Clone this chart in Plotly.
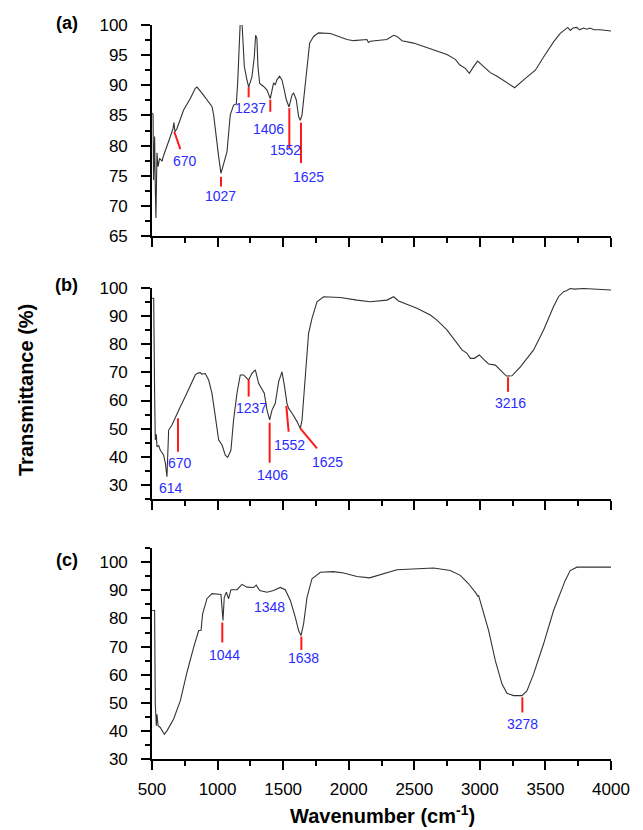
import plotly.graph_objects as go
from plotly.subplots import make_subplots

# ---------------- data ----------------
wn_a = [502, 508, 512, 520, 525, 530, 538, 546, 558, 576, 589, 614, 640, 660, 667, 675, 690, 741, 792, 830,
        843, 881, 919, 957, 970, 990, 1008, 1026, 1046, 1072, 1084, 1097, 1122, 1143, 1153, 1173, 1186, 1194,
        1204, 1224, 1237, 1262, 1280, 1290, 1300, 1308, 1321, 1351, 1377, 1402, 1415, 1427, 1440, 1453, 1473,
        1491, 1509, 1524, 1545, 1568, 1580, 1600, 1618, 1631, 1644, 1661, 1682, 1702, 1732, 1770, 1860, 1987,
        2037, 2139, 2150, 2164, 2291, 2342, 2368, 2406, 2495, 2647, 2749, 2813, 2846, 2889, 2920, 2952, 2983,
        3029, 3080, 3131, 3207, 3265, 3334, 3423, 3486, 3562, 3613, 3651, 3670, 3690, 3710, 3740, 3760, 3790,
        3816, 3840, 3870, 3918, 4000]
t_a = [85.4, 85.2, 74.3, 81.5, 73.0, 68.0, 78.8, 76.5, 77.9, 77.4, 78.4, 79.8, 81.5, 82.8, 83.8, 82.3, 82.8,
       85.9, 87.8, 89.5, 89.7, 88.7, 87.6, 86.5, 85.1, 80.9, 78.2, 75.4, 77.1, 79.0, 82.0, 85.1, 86.7, 86.9,
       90.3, 100.5, 100.5, 97.0, 93.1, 90.9, 89.7, 91.4, 94.7, 98.3, 97.8, 93.1, 90.3, 89.8, 89.2, 87.8, 89.2,
       90.4, 90.1, 90.9, 91.5, 90.9, 89.2, 87.6, 86.4, 88.4, 88.7, 87.6, 84.8, 84.2, 85.1, 88.7, 93.6, 97.0,
       98.1, 98.7, 98.6, 97.6, 97.4, 97.6, 97.1, 97.3, 97.6, 98.3, 98.1, 97.4, 97.0, 95.9, 95.1, 94.3, 93.4,
       92.8, 92.0, 93.1, 94.0, 93.1, 92.1, 91.5, 90.4, 89.6, 90.9, 92.5, 94.7, 97.2, 98.6, 99.2, 99.6, 99.1,
       99.5, 99.6, 99.2, 99.5, 99.3, 99.5, 99.2, 99.2, 99.0]

wn_b = [502, 513, 520, 525, 533, 538, 551, 563, 589, 602, 614, 622, 627, 652, 678, 716, 754, 792, 830, 850,
        868, 880, 906, 932, 957, 983, 1008, 1034, 1059, 1077, 1102, 1122, 1148, 1173, 1198, 1224, 1237, 1262,
        1288, 1313, 1339, 1356, 1377, 1397, 1415, 1440, 1466, 1491, 1509, 1529, 1542, 1568, 1606, 1631, 1644,
        1661, 1694, 1720, 1758, 1809, 1936, 2063, 2164, 2291, 2342, 2380, 2495, 2520, 2622, 2673, 2749, 2826,
        2864, 2902, 2927, 2958, 2996, 3029, 3067, 3118, 3156, 3202, 3245, 3309, 3410, 3486, 3562, 3600, 3638,
        3660, 3689, 3720, 3790, 3850, 3918, 4000]
t_b = [96.3, 96.3, 62.6, 46.0, 48.0, 43.6, 44.0, 42.4, 40.6, 37.7, 32.9, 43.6, 49.5, 51.3, 53.7, 57.8, 61.4,
       65.5, 69.1, 69.8, 69.9, 69.4, 69.6, 67.3, 62.6, 54.3, 46.0, 44.2, 40.6, 39.8, 42.4, 53.1, 62.6, 69.1,
       69.1, 67.9, 67.3, 69.7, 70.9, 66.1, 63.7, 62.6, 56.6, 53.1, 56.6, 59.0, 66.7, 70.2, 65.5, 59.0, 57.2,
       55.5, 52.5, 50.1, 53.1, 64.9, 83.9, 89.2, 95.1, 96.9, 96.6, 95.7, 95.1, 95.7, 96.9, 95.4, 93.4, 92.8,
       90.4, 88.6, 85.1, 80.3, 78.0, 76.8, 75.0, 75.0, 76.2, 74.6, 73.0, 72.6, 70.8, 68.7, 68.8, 72.0, 78.0,
       85.1, 93.4, 96.9, 98.7, 99.0, 99.8, 99.6, 99.8, 99.7, 99.6, 99.3]

wn_c = [502, 520, 525, 533, 538, 546, 563, 594, 614, 665, 716, 767, 818, 856, 874, 886, 919, 957, 1008, 1026,
        1041, 1051, 1067, 1084, 1102, 1148, 1186, 1224, 1275, 1295, 1321, 1377, 1427, 1478, 1516, 1555, 1593,
        1618, 1636, 1656, 1682, 1720, 1784, 1885, 1961, 2063, 2159, 2266, 2368, 2647, 2774, 2851, 2914, 2973,
        2985, 2990, 3016, 3067, 3118, 3169, 3207, 3257, 3321, 3359, 3410, 3486, 3562, 3651, 3689, 3740, 4000]
t_c = [82.8, 82.8, 49.6, 41.9, 46.0, 41.9, 41.3, 38.9, 40.1, 44.3, 50.8, 60.9, 69.8, 75.7, 75.8, 81.6, 87.0,
       88.8, 88.6, 88.5, 79.3, 87.5, 89.3, 87.0, 90.2, 90.2, 92.1, 91.1, 91.0, 91.8, 89.9, 89.3, 89.9, 91.0,
       90.2, 86.4, 80.4, 75.7, 73.9, 78.1, 87.5, 94.1, 96.4, 96.6, 96.1, 94.9, 94.4, 95.9, 97.3, 97.9, 97.0,
       95.3, 92.3, 88.8, 87.8, 88.2, 84.0, 75.7, 65.0, 56.7, 53.4, 52.6, 52.6, 54.3, 60.3, 71.0, 82.8, 93.5,
       97.0, 98.2, 98.2]

panel_letters = ["(a)", "(b)", "(c)"]
x_ticks = [500, 1000, 1500, 2000, 2500, 3000, 3500, 4000]
y_ticks_a = [65, 70, 75, 80, 85, 90, 95, 100]
y_ticks_bc = [30, 40, 50, 60, 70, 80, 90, 100]

# peak labels per panel
labels_a = ["670", "1027", "1237", "1406", "1552", "1625"]
labels_b = ["614", "670", "1237", "1406", "1552", "1625", "3216"]
labels_c = ["1044", "1348", "1638", "3278"]

# ---------------- layout config (positions of marker ticks/labels) ----------------
ann_a = [(labels_a[0], 754, 77.5, (670, 82.3, 716, 79.4)),
         (labels_a[1], 1026, 71.6, (1026, 74.8, 1026, 73.2)),
         (labels_a[2], 1250, 86.2, (1237, 89.7, 1237, 88.0)),
         (labels_a[3], 1389, 82.8, (1402, 87.6, 1402, 85.6)),
         (labels_a[4], 1517, 79.2, (1547, 86.2, 1547, 79.6)),
         (labels_a[5], 1694, 74.8, (1636, 83.8, 1636, 77.1))]
ann_b = [(labels_b[0], 645, 28.8, None),
         (labels_b[1], 716, 37.9, (698, 53.7, 698, 41.8)),
         (labels_b[2], 1262, 57.2, (1237, 67.5, 1237, 61.4)),
         (labels_b[3], 1415, 33.5, (1397, 52.1, 1397, 37.9)),
         (labels_b[4], 1549, 44.2, (1524, 58.1, 1542, 48.9)),
         (labels_b[5], 1842, 38.3, (1631, 50.1, 1758, 43.0)),
         (labels_b[6], 3232, 59.0, (3215, 68.3, 3215, 63.1))]
ann_c = [(labels_c[0], 1049, 67.2, (1036, 78.6, 1036, 71.5)),
         (labels_c[1], 1397, 84.0, None),
         (labels_c[2], 1654, 65.8, (1639, 73.6, 1639, 68.8)),
         (labels_c[3], 3328, 42.5, (3324, 52.0, 3324, 46.6))]

FONT = "Liberation Sans, Arial, sans-serif"
H = 830.0
L, R = 152, 32
domains = [(1 - 236 / H, 1 - 25 / H), (1 - 499 / H, 1 - 288 / H), (1 - 759.3 / H, 1 - 548 / H)]
ranges = [(65, 100), (25, 100), (30, 105)]

fig = make_subplots(rows=3, cols=1)
for i, (wx, ty) in enumerate([(wn_a, t_a), (wn_b, t_b), (wn_c, t_c)]):
    fig.add_trace(go.Scatter(x=wx, y=ty, mode="lines", line=dict(color="#333333", width=1.1),
                             showlegend=False, hoverinfo="skip"), row=i + 1, col=1)

axis_common = dict(showline=True, linecolor="black", linewidth=1.6, ticks="outside", tickcolor="black",
                   tickwidth=1.5, ticklen=9, showgrid=False, zeroline=False,
                   tickfont=dict(family=FONT, size=17, color="black"))
for i in range(3):
    xa = "xaxis" if i == 0 else f"xaxis{i+1}"
    ya = "yaxis" if i == 0 else f"yaxis{i+1}"
    fig.layout[xa].update(domain=[0, 1], range=[500, 4000], tickvals=x_ticks,
                          showticklabels=(i == 2), ticklabelstandoff=4,
                          minor=dict(ticks="outside", ticklen=5, dtick=250, tick0=500, tickcolor="black", tickwidth=1.5),
                          **axis_common)
    yt = y_ticks_a if i == 0 else y_ticks_bc
    mdt = 2.5 if i == 0 else 5
    fig.layout[ya].update(domain=list(domains[i]), range=list(ranges[i]), tickvals=yt,
                          ticklabelstandoff=10,
                          minor=dict(ticks="outside", ticklen=5, dtick=mdt, tick0=ranges[i][0], tickcolor="black", tickwidth=1.5),
                          **axis_common)

annotations = []
shapes = []
for i, anns in enumerate([ann_a, ann_b, ann_c]):
    xr = "x" if i == 0 else f"x{i+1}"
    yr = "y" if i == 0 else f"y{i+1}"
    for lab, lx, ly, seg in anns:
        annotations.append(dict(x=lx, y=ly, xref=xr, yref=yr, text=lab, showarrow=False,
                                font=dict(family=FONT, size=14, color="#2b2bff")))
        if seg is not None:
            shapes.append(dict(type="line", xref=xr, yref=yr, x0=seg[0], y0=seg[1], x1=seg[2], y1=seg[3],
                               line=dict(color="#ff1a1a", width=2)))

W_plot = 643 - L - R
letter_y = [23, 285, 560]
for i, lt in enumerate(panel_letters):
    annotations.append(dict(x=(80 - L) / W_plot, y=1 - letter_y[i] / H, xref="paper", yref="paper",
                            xanchor="right", yanchor="middle", text=f"<b>{lt}</b>", showarrow=False,
                            font=dict(family=FONT, size=18, color="black")))

annotations.append(dict(x=(26 - L) / W_plot, y=1 - 390 / H, xref="paper", yref="paper", textangle=-90,
                        xanchor="center", yanchor="middle", text="<b>Transmittance (%)</b>", showarrow=False,
                        font=dict(family=FONT, size=20, color="black")))
annotations.append(dict(x=(382 - L) / W_plot, y=1 - 814 / H, xref="paper", yref="paper",
                        xanchor="center", yanchor="middle", text="<b>Wavenumber (cm<sup>-1</sup>)</b>",
                        showarrow=False, font=dict(family=FONT, size=20, color="black")))

fig.update_layout(width=643, height=830, margin=dict(l=L, r=R, t=0, b=0, autoexpand=False),
                  plot_bgcolor="white", paper_bgcolor="white", annotations=annotations, shapes=shapes,
                  showlegend=False)

fig.write_html("out.html", config={"displayModeBar": False},
               post_script="document.body.style.margin='0';document.body.style.overflow='hidden';")
